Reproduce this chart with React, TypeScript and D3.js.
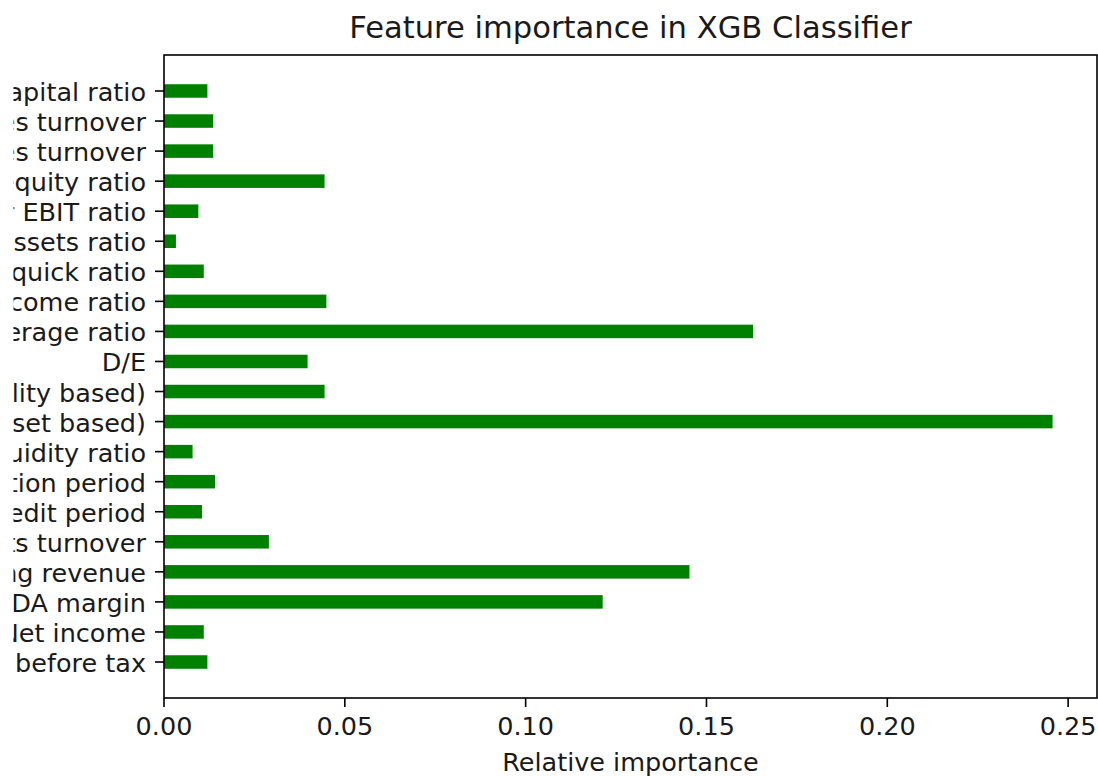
import React, { useEffect, useRef } from 'react';
import * as d3 from 'd3';

// features listed bottom -> top, as in the plot
const features = [
  'Profit before tax',
  'Net income',
  'EBITDA margin',
  'Operating revenue',
  'Assets turnover',
  'Credit period',
  'Collection period',
  'Liquidity ratio',
  'Solvency ratio (asset based)',
  'Solvency ratio (liability based)',
  'D/E',
  'Interest coverage ratio',
  'Net income ratio',
  'Acid test quick ratio',
  'Current assets ratio',
  'Interest cover EBIT ratio',
  'Shareholders equity ratio',
  'Payables turnover',
  'Receivables turnover',
  'Working capital ratio',
];

const importance = [
  0.0120, 0.0110, 0.1213, 0.1453, 0.0290, 0.0105, 0.0141, 0.0079, 0.2457, 0.0444,
  0.0397, 0.1629, 0.0449, 0.0110, 0.0033, 0.0095, 0.0444, 0.0136, 0.0136, 0.0120,
];

const xTicks = [0, 0.05, 0.1, 0.15, 0.2, 0.25];

const FONT = '"DejaVu Sans", sans-serif';
const TXT = '#1a1a1a';

export default function App() {
  const ref = useRef<SVGSVGElement>(null);

  useEffect(() => {
    const width = 1098;
    const height = 776;
    const svg = d3.select(ref.current);
    svg.html('');
    svg.attr('width', width).attr('height', height);

    const left = 164, right = 1097, top = 55, bottom = 698;
    const barH = 0.45;
    const n = features.length;
    const pad = 0.05 * (n - 1 + barH);

    const x = d3.scaleLinear().domain([0, d3.max(importance)! * 1.05]).range([left, right]);
    const y = d3
      .scaleLinear()
      .domain([-barH / 2 - pad, n - 1 + barH / 2 + pad])
      .range([bottom, top]);

    svg.append('rect').attr('width', width).attr('height', height).attr('fill', '#fff');

    // the reference image is cut off at the left
    svg.append('clipPath').attr('id', 'lblclip')
      .append('rect').attr('x', 13.5).attr('y', 0).attr('width', width).attr('height', height);

    // bars
    svg.append('g')
      .selectAll('rect')
      .data(importance)
      .enter()
      .append('rect')
      .attr('x', x(0))
      .attr('y', (d, i) => y(i + barH / 2))
      .attr('width', d => x(d) - x(0))
      .attr('height', (d, i) => y(i - barH / 2) - y(i + barH / 2))
      .attr('fill', 'green');

    // frame
    svg.append('rect')
      .attr('x', left).attr('y', top)
      .attr('width', right - left).attr('height', bottom - top)
      .attr('fill', 'none').attr('stroke', '#000').attr('stroke-width', 1.6);

    // x ticks
    const xg = svg.append('g');
    xTicks.forEach(t => {
      xg.append('line')
        .attr('x1', x(t)).attr('x2', x(t))
        .attr('y1', bottom).attr('y2', bottom + 9)
        .attr('stroke', '#000').attr('stroke-width', 1.6);
      xg.append('text')
        .attr('x', x(t)).attr('y', 735)
        .attr('text-anchor', 'middle')
        .attr('font-family', FONT).attr('font-size', 25.5)
        .attr('fill', TXT)
        .text(d3.format('.2f')(t));
    });

    // y ticks + labels
    const yg = svg.append('g');
    features.forEach((f, i) => {
      yg.append('line')
        .attr('x1', left - 9).attr('x2', left)
        .attr('y1', y(i)).attr('y2', y(i))
        .attr('stroke', '#000').attr('stroke-width', 1.6);
      yg.append('text')
        .attr('x', 146).attr('y', y(i) + 10)
        .attr('text-anchor', 'end')
        .attr('clip-path', 'url(#lblclip)')
        .attr('font-family', FONT).attr('font-size', 25.5)
        .attr('fill', TXT)
        .text(f);
    });

    svg.append('text')
      .attr('x', (left + right) / 2).attr('y', 771)
      .attr('text-anchor', 'middle')
      .attr('font-family', FONT).attr('font-size', 25.5)
      .attr('fill', TXT)
      .text('Relative importance');

    svg.append('text')
      .attr('x', (left + right) / 2).attr('y', 38)
      .attr('text-anchor', 'middle')
      .attr('font-family', FONT).attr('font-size', 30.6)
      .attr('fill', TXT)
      .text('Feature importance in XGB Classifier');
  }, []);

  return (
    <div style={{ position: 'absolute', left: 0, top: 0 }}>
      <svg ref={ref} style={{ display: 'block' }}></svg>
    </div>
  );
}
